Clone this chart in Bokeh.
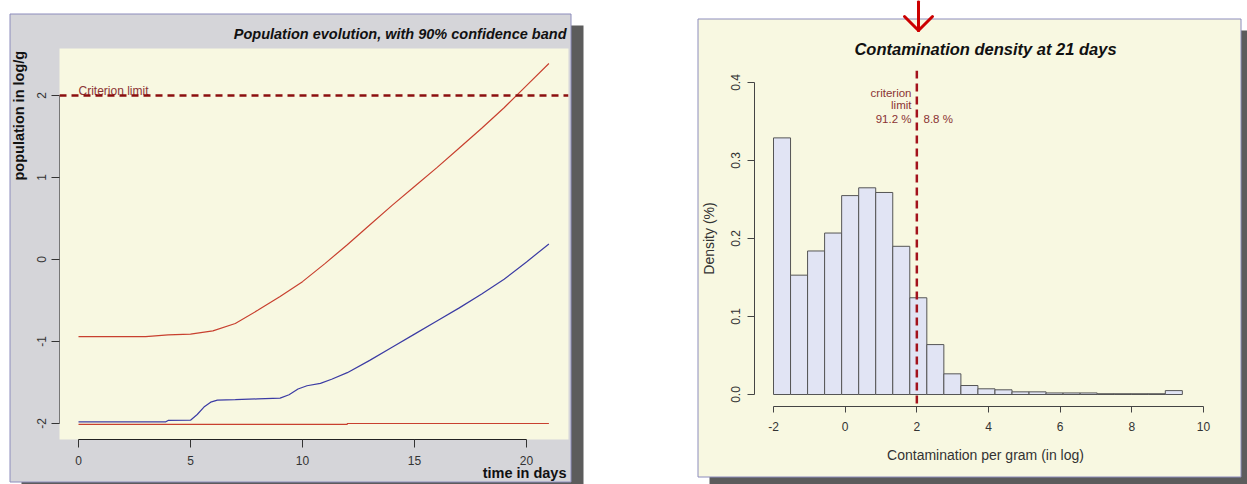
import numpy as np
from math import pi
from bokeh.plotting import figure
from bokeh.models import Range1d, FixedTicker, Span, Label
from bokeh.embed import file_html
from bokeh.resources import INLINE

# ---------------- data : left panel (population evolution) ----------------
days_upper = [0, 1, 2, 3, 4, 5, 6, 7, 8, 9, 10, 11, 12, 13, 14, 15, 16, 17, 18, 19, 20, 21]
upper = [-0.94, -0.94, -0.94, -0.94, -0.92, -0.91, -0.87, -0.78, -0.62, -0.45, -0.27,
         -0.05, 0.18, 0.42, 0.66, 0.89, 1.12, 1.36, 1.60, 1.85, 2.12, 2.39]
days_median = [0, 3.9, 4.0, 5.0, 5.3, 5.6, 5.9, 6.2, 7, 8, 9, 9.4, 9.8, 10.2, 10.8, 11.3,
               12, 13, 14, 15, 16, 17, 18, 19, 20, 21]
median = [-1.98, -1.98, -1.963, -1.96, -1.89, -1.80, -1.74, -1.715, -1.71, -1.70, -1.69,
          -1.65, -1.58, -1.54, -1.51, -1.46, -1.38, -1.23, -1.07, -0.91, -0.75, -0.59,
          -0.42, -0.24, -0.03, 0.19]
days_lower = [0, 12, 12, 21]
lower = [-2.01, -2.01, -2.0, -2.0]
criterion = 2.0
x_ticks_left = [0, 5, 10, 15, 20]
y_ticks_left = [-2, -1, 0, 1, 2]
y_tick_labels_left = ["-2", "-1", "0", "1", "2"]

# ---------------- data : right panel (histogram at 21 days) ----------------
density = [0.329, 0.153, 0.184, 0.207, 0.255, 0.265, 0.259, 0.190, 0.124, 0.064, 0.0265,
           0.0115, 0.0073, 0.006, 0.0034, 0.0034, 0.002, 0.002, 0.002, 0.001, 0.001,
           0.001, 0.001, 0.005]
bin_lo, bin_hi = -2.0, 9.41
x_ticks_right = [-2, 0, 2, 4, 6, 8, 10]
x_tick_labels_right = ["-2", "0", "2", "4", "6", "8", "10"]
y_ticks_right = [0.0, 0.1, 0.2, 0.3, 0.4]
y_tick_labels_right = ["0.0", "0.1", "0.2", "0.3", "0.4"]
pct_below, pct_above = 91.2, 8.8

# ---------------- styles ----------------
FONT = "Liberation Sans"
YEL = "#f8f8e1"
GREY = "#d5d5d9"
SHADOW = "#5c5c5c"
BORDER = "#8c8cbc"
RED = "#c8402f"
BLUE = "#3c3ca4"
DARKRED = "#8b0f0f"
TXTRED = "#8b3434"
PAGE_W, PAGE_H = 1247, 484


def absolute(p, left, top):
    p.styles = {"position": "absolute", "left": f"{left}px", "top": f"{top}px"}


# =============== background sheet: panels, shadows, texts, arrow ===============
bg = figure(width=PAGE_W, height=PAGE_H, x_range=Range1d(0, PAGE_W),
            y_range=Range1d(PAGE_H, 0), output_backend="svg", toolbar_location=None,
            x_axis_location=None, y_axis_location=None, min_border=0,
            outline_line_color=None, background_fill_color="white",
            border_fill_color="white")
bg.grid.visible = False
absolute(bg, 0, 0)

# left panel
bg.quad(left=21, right=583, top=25, bottom=500, fill_color=SHADOW, line_color=None)
bg.quad(left=9.5, right=570.5, top=13.5, bottom=481.5, fill_color=GREY,
        line_color=BORDER, line_width=1)
bg.quad(left=59, right=568, top=48, bottom=439, fill_color=YEL, line_color=None)
# right panel
bg.quad(left=709, right=1300, top=30, bottom=500, fill_color=SHADOW, line_color=None)
bg.quad(left=697.5, right=1240.5, top=18.5, bottom=476.5, fill_color=YEL,
        line_color=BORDER, line_width=1)


def text(x, y, s, size, style="normal", color="#111111", align="left", angle=0.0):
    bg.add_layout(Label(x=x, y=y, text=s, text_font=FONT, text_font_size=size,
                        text_font_style=style, text_color=color, text_align=align,
                        text_baseline="middle", angle=angle))


text(566, 33, "Population evolution, with 90% confidence band", "14.5px", "bold italic",
     align="right")
text(18, 180, "population in log/g", "14.5px", "bold", angle=pi / 2)
text(566, 472, "time in days", "14.5px", "bold", align="right")
text(78, 90, "Criterion limit", "12px", color=TXTRED)

text(985, 48, "Contamination density at 21 days", "16.5px", "bold italic", align="center")
text(708, 238, "Density (%)", "14px", color="#333333", align="center", angle=pi / 2)
text(985, 454, "Contamination per gram (in log)", "14px", color="#333333", align="center")
text(911, 92, "criterion", "11.5px", color=TXTRED, align="right")
text(911, 104.5, "limit", "11.5px", color=TXTRED, align="right")
text(911, 118.5, f"{pct_below} %", "11.5px", color=TXTRED, align="right")
text(923, 118.5, f"{pct_above} %", "11.5px", color=TXTRED, align="left")

# red arrow pointing down at the criterion limit of the histogram
bg.segment(x0=[918, 904, 932], y0=[1, 16, 16], x1=[918, 918, 918], y1=[30, 30, 30],
           line_color="#cc0000", line_width=3, line_cap="round")

# =============== left chart (transparent, on top) ===============
LF = (59, 48, 568, 439)                  # frame left, top, right, bottom (page px)
LO = (10, 14)                            # canvas origin
LW, LH = 560, 466
lxp = (526 - 78) / 20.0                  # px per day
lyp = (423 - 95) / 4.0                   # px per log unit
L_xr = ((LF[0] - 78) / lxp, (LF[2] - 78) / lxp)
L_yr = (-2 - (LF[3] - 423) / lyp, 2 + (95 - LF[1]) / lyp)

pL = figure(width=LW, height=LH, x_range=Range1d(*L_xr), y_range=Range1d(*L_yr),
            output_backend="svg", toolbar_location=None,
            min_border_left=LF[0] - LO[0], min_border_right=LO[0] + LW - LF[2],
            min_border_top=LF[1] - LO[1], min_border_bottom=LO[1] + LH - LF[3],
            background_fill_alpha=0, border_fill_alpha=0, outline_line_color=None)
pL.grid.visible = False
absolute(pL, *LO)

pL.line(days_lower, lower, line_color=RED, line_width=1.2)
pL.line(days_upper, upper, line_color=RED, line_width=1.2)
pL.line(days_median, median, line_color=BLUE, line_width=1.2)
pL.add_layout(Span(location=criterion, dimension="width", line_color=DARKRED,
                   line_width=2.5, line_dash="7 5"))

for ax in (pL.xaxis[0], pL.yaxis[0]):
    ax.major_tick_in = 0
    ax.major_tick_out = 8
    ax.minor_tick_line_color = None
    ax.major_label_text_font = FONT
    ax.major_label_text_font_size = "12px"
    ax.major_label_text_color = "#333333"
    ax.major_tick_line_color = "#333333"
pL.xaxis.ticker = FixedTicker(ticks=x_ticks_left)
pL.xaxis.bounds = (min(x_ticks_left), max(x_ticks_left))
pL.xaxis.axis_line_color = "#222222"
pL.xaxis.major_label_standoff = 8
pL.yaxis.ticker = FixedTicker(ticks=y_ticks_left)
pL.yaxis.bounds = (min(y_ticks_left), max(y_ticks_left))
pL.yaxis.major_label_overrides = {t: s for t, s in zip(y_ticks_left, y_tick_labels_left)}
pL.yaxis.major_label_orientation = "vertical"
pL.yaxis.axis_line_color = "#777777"
pL.yaxis.major_label_standoff = 6

# =============== right chart (transparent, on top) ===============
RF = (754, 70, 1210, 406)
RO = (700, 20)
RW, RH = 539, 454
rxp = (1203 - 773) / 12.0
ryp = (394 - 82) / 0.4
R_xr = (-2 + (RF[0] - 773) / rxp, -2 + (RF[2] - 773) / rxp)
R_yr = (-(RF[3] - 394) / ryp, 0.4 + (82 - RF[1]) / ryp)

pR = figure(width=RW, height=RH, x_range=Range1d(*R_xr), y_range=Range1d(*R_yr),
            output_backend="svg", toolbar_location=None,
            min_border_left=RF[0] - RO[0], min_border_right=RO[0] + RW - RF[2],
            min_border_top=RF[1] - RO[1], min_border_bottom=RO[1] + RH - RF[3],
            background_fill_alpha=0, border_fill_alpha=0, outline_line_color=None)
pR.grid.visible = False
absolute(pR, *RO)

edges = np.linspace(bin_lo, bin_hi, len(density) + 1)
pR.quad(left=edges[:-1], right=edges[1:], bottom=0, top=density,
        fill_color="#e1e4f4", line_color="#555555", line_width=1)
pR.add_layout(Span(location=criterion, dimension="height", line_color="#a3121c",
                   line_width=2.5, line_dash="8 5"))

for ax in (pR.xaxis[0], pR.yaxis[0]):
    ax.major_tick_in = 0
    ax.minor_tick_line_color = None
    ax.major_label_text_font = FONT
    ax.major_label_text_font_size = "12px"
    ax.major_label_text_color = "#333333"
    ax.major_tick_line_color = "#444444"
    ax.axis_line_color = "#444444"
pR.xaxis.ticker = FixedTicker(ticks=x_ticks_right)
pR.xaxis.bounds = (min(x_ticks_right), max(x_ticks_right))
pR.xaxis.major_label_overrides = {t: s for t, s in zip(x_ticks_right, x_tick_labels_right)}
pR.xaxis.major_tick_out = 6
pR.xaxis.major_label_standoff = 9
pR.yaxis.ticker = FixedTicker(ticks=y_ticks_right)
pR.yaxis.bounds = (min(y_ticks_right), max(y_ticks_right))
pR.yaxis.major_label_overrides = {t: s for t, s in zip(y_ticks_right, y_tick_labels_right)}
pR.yaxis.major_label_orientation = "vertical"
pR.yaxis.major_tick_out = 7
pR.yaxis.major_label_standoff = 8

open("out.html", "w").write(file_html([bg, pL, pR], INLINE))
